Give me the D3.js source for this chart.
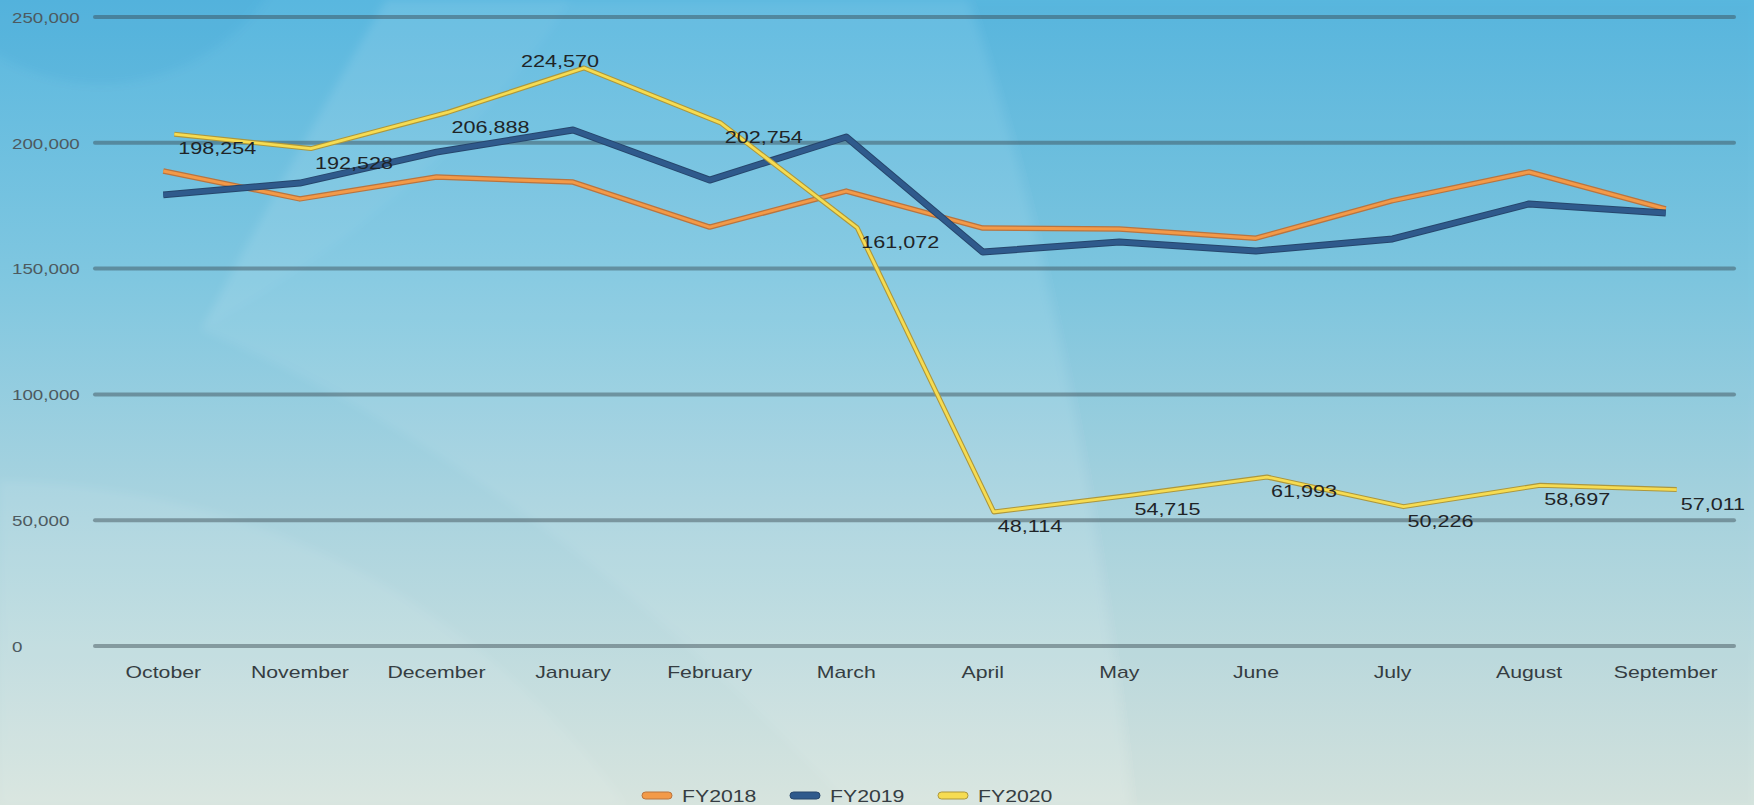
<!DOCTYPE html>
<html>
<head>
<meta charset="utf-8">
<script src="https://cdn.jsdelivr.net/npm/d3@7"></script>
<style>
  body { margin: 0; overflow: hidden; background: #9fd0e0; }
  text { font-family: "Liberation Sans", Arial, sans-serif; }
</style>
</head>
<body>
<div id="canvas"></div>
<script>
// data
var months = ["October", "November", "December", "January", "February", "March",
              "April", "May", "June", "July", "August", "September"];
var fy2018 = [188800, 177700, 186400, 184400, 166500, 180800, 166100, 165700, 162100, 177000, 188400, 173700];
var fy2019 = [179300, 184000, 196300, 205100, 185200, 202300, 156600, 160600, 157000, 161800, 175700, 172100];
var fy2020 = [198254, 192528, 206888, 224570, 202754, 161072, 48114, 54715, 61993, 50226, 58697, 57011];
var yTicks = [0, 50000, 100000, 150000, 200000, 250000];
var seriesNames = ["FY2018", "FY2019", "FY2020"];
var labelPos = ["right", "right", "right", "above", "right", "right",
                "right", "right", "right", "right", "right", "right"];

var W = 1754, H = 805;
var margin = { top: 17, right: 20, bottom: 159, left: 95 };

var svg = d3.select("#canvas").append("svg")
  .attr("width", W)
  .attr("height", H);

// background gradient
var defs = svg.append("defs");
var grad = defs.append("linearGradient")
  .attr("id", "bg")
  .attr("x1", 0).attr("y1", 0).attr("x2", 0).attr("y2", 1);
grad.append("stop").attr("offset", "0%").attr("stop-color", "#59b7df");
grad.append("stop").attr("offset", "35%").attr("stop-color", "#80c7e0");
grad.append("stop").attr("offset", "62%").attr("stop-color", "#a8d3df");
grad.append("stop").attr("offset", "100%").attr("stop-color", "#d7e4de");

defs.append("filter").attr("id", "soft")
  .append("feGaussianBlur").attr("stdDeviation", 4);

svg.append("rect").attr("width", W).attr("height", H).attr("fill", "url(#bg)");

// soft decorative swooshes (drawn in the 1568x720 frame and scaled up)
var deco = svg.append("g")
  .attr("transform", "scale(" + (W / 1568) + ")")
  .attr("filter", "url(#soft)");
deco.append("circle").attr("cx", 90).attr("cy", -105).attr("r", 180)
  .attr("fill", "rgba(30,120,190,0.07)");
deco.append("path")
  .attr("d", "M345,0 L865,0 Q965,300 1010,720 L760,720 Q480,420 180,295 Q262,140 345,0 Z")
  .attr("fill", "rgba(255,255,255,0.07)");
deco.append("path")
  .attr("d", "M345,0 L510,0 Q400,170 180,295 Q262,140 345,0 Z")
  .attr("fill", "rgba(255,255,255,0.04)");
deco.append("path")
  .attr("d", "M0,430 Q350,440 560,720 L0,720 Z")
  .attr("fill", "rgba(255,255,255,0.07)");
deco.append("path")
  .attr("d", "M865,0 L1568,0 L1568,720 L1010,720 Q965,300 865,0 Z")
  .attr("fill", "rgba(20,110,180,0.025)");

var x = d3.scaleBand()
  .domain(months)
  .range([margin.left, W - margin.right])
  .padding(0);
var cx = function(m) { return x(m) + x.bandwidth() / 2; };

var y = d3.scaleLinear()
  .domain([0, 250000])
  .range([H - margin.bottom, margin.top]);

var fmt = d3.format(",");

// gridlines
svg.append("g").selectAll("line")
  .data(yTicks)
  .enter().append("line")
  .attr("x1", margin.left)
  .attr("x2", W - margin.right)
  .attr("y1", function(d) { return y(d); })
  .attr("y2", function(d) { return y(d); })
  .attr("stroke", "rgba(55,70,80,0.45)")
  .attr("stroke-width", 4)
  .attr("stroke-linecap", "round");

// y labels (left aligned like the reference)
svg.append("g").selectAll("text")
  .data(yTicks)
  .enter().append("text")
  .attr("transform", function(d) { return "translate(12," + (y(d) + 1) + ") scale(1.25,1)"; })
  .attr("dominant-baseline", "central")
  .attr("font-size", 15)
  .attr("fill", "#4d5a60")
  .text(function(d) { return fmt(d); });

// month labels
svg.append("g").selectAll("text")
  .data(months)
  .enter().append("text")
  .attr("transform", function(d) { return "translate(" + cx(d) + ",678) scale(1.25,1)"; })
  .attr("text-anchor", "middle")
  .attr("font-size", 17)
  .attr("fill", "#353d42")
  .text(function(d) { return d; });

var series = [
  { name: seriesNames[0], values: fy2018, color: "#f39a48", edge: "#b9743f", w: 5.5, inner: 3, dx: 0, dy: 0 },
  { name: seriesNames[1], values: fy2019, color: "#2f5a8c", edge: "#26466c", w: 7, inner: 5, dx: 0, dy: 0 },
  { name: seriesNames[2], values: fy2020, color: "#f6dc52", edge: "#ad973c", w: 5, inner: 2.8, dx: 11, dy: -13 }
];

var line = d3.line()
  .x(function(d, i) { return cx(months[i]); })
  .y(function(d) { return y(d); });

// draw back to front: FY2018, FY2019, then FY2020 (shifted like the depth effect in the reference)
series.forEach(function(s) {
  var g = svg.append("g").attr("transform", "translate(" + s.dx + "," + s.dy + ")");
  g.append("path")
    .attr("d", line(s.values))
    .attr("fill", "none")
    .attr("stroke", s.edge)
    .attr("stroke-width", s.w)
    .attr("stroke-linejoin", "round");
  g.append("path")
    .attr("d", line(s.values))
    .attr("fill", "none")
    .attr("stroke", s.color)
    .attr("stroke-width", s.inner)
    .attr("stroke-linejoin", "round");
});

// data labels for FY2020
svg.append("g").selectAll("text")
  .data(fy2020)
  .enter().append("text")
  .attr("transform", function(d, i) {
    if (labelPos[i] === "above") {
      return "translate(" + (cx(months[i]) - 13) + "," + (y(d) - 20) + ") scale(1.27,1)";
    }
    return "translate(" + (cx(months[i]) + 15) + "," + (y(d) + 1) + ") scale(1.27,1)";
  })
  .attr("text-anchor", function(d, i) { return labelPos[i] === "above" ? "middle" : "start"; })
  .attr("dominant-baseline", "central")
  .attr("font-size", 17)
  .attr("fill", "#1f2427")
  .text(function(d) { return fmt(d); });

// legend
var legend = svg.append("g").selectAll("g")
  .data(series)
  .enter().append("g")
  .attr("transform", function(d, i) { return "translate(" + (642 + i * 148) + ",0)"; });
legend.append("rect")
  .attr("x", 0).attr("y", 792)
  .attr("width", 30).attr("height", 7)
  .attr("rx", 3.5)
  .attr("fill", function(d) { return d.color; })
  .attr("stroke", function(d) { return d.edge; })
  .attr("stroke-width", 1);
legend.append("text")
  .attr("transform", "translate(40,802) scale(1.25,1)")
  .attr("font-size", 17)
  .attr("fill", "#353d42")
  .text(function(d) { return d.name; });
</script>
</body>
</html>
